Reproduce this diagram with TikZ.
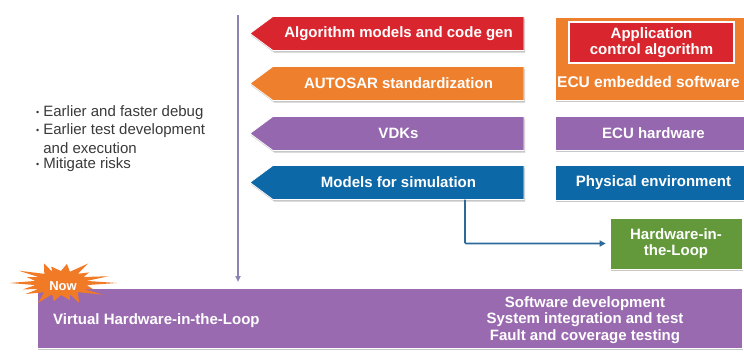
\documentclass[tikz,border=0pt]{standalone}
\usepackage{fontspec}
\setmainfont{Liberation Sans}
\usetikzlibrary{shadows,arrows.meta}

\definecolor{cred}{HTML}{D9262E}
\definecolor{corange}{HTML}{EE7F2D}
\definecolor{cpurple}{HTML}{9467AE}
\definecolor{cblue}{HTML}{0D68A8}
\definecolor{cgreen}{HTML}{63993A}
\definecolor{cbottom}{HTML}{996AAF}
\definecolor{cline}{HTML}{8C84B4}
\definecolor{cconn}{HTML}{2E6A99}
\definecolor{cstar}{HTML}{F07A26}
\definecolor{ctext}{HTML}{3A3A3A}

\tikzset{
  boxshade/.style={draw=white, line width=0.7pt,
    drop shadow={shadow xshift=1.2pt, shadow yshift=-2pt, opacity=0.22, fill=black}},
  boxtext/.style={text=white, font=\fontsize{15}{16.5}\selectfont\bfseries,
    align=center, inner sep=0pt},
  rectbox/.style={boxshade, boxtext, minimum height=34pt},
  bullettext/.style={text=ctext, font=\fontsize{15}{17}\selectfont,
    anchor=west, inner sep=0pt},
  conn/.style={draw=cconn, line width=1.6pt, -{Triangle[length=6pt,width=6pt]}},
  timeline/.style={draw=cline, line width=1.6pt, -{Triangle[length=6pt,width=5pt]}}
}

% small raised bullet mark
\newcommand\bmark{\raisebox{1.8pt}{\fontsize{9}{9}\selectfont•}\hspace{4pt}}

% arrow-shaped tag pointing left: name, vertical centre, colour, text
\newcommand\tagbox[4]{%
  \path[boxshade, fill=#3] (250,#2) -- (273,{#2-17}) -- (524,{#2-17})
    -- (524,{#2+17}) -- (273,{#2+17}) -- cycle;
  \node[boxtext, minimum width=251pt, minimum height=34pt] (#1) at (398.5,#2) {#4};
}

\begin{document}
\begin{tikzpicture}[x=1pt, y=-1pt]
\useasboundingbox (0,0) rectangle (744,362);
\clip (0,0) rectangle (744,362);
\fill[white] (0,0) rectangle (744,362);

% time line
\coordinate (tstart) at (238,15);
\coordinate (tend) at (238,282);
\draw[timeline] (tstart) -- (tend);

% benefits
\node[bullettext] (b1) at (36,113) {\bmark Earlier and faster debug};
\node[bullettext] (b2) at (36,131) {\bmark Earlier test development};
\node[bullettext] (b3) at (36,148) {\phantom{\bmark}and execution};
\node[bullettext] (b4) at (36,165) {\bmark Mitigate risks};

% tool chain tags
\tagbox{alg}{33.5}{cred}{Algorithm models and code gen}
\tagbox{autosar}{83.5}{corange}{AUTOSAR standardization}
\tagbox{vdk}{133.5}{cpurple}{VDKs}
\tagbox{sim}{182.5}{cblue}{Models for simulation}

% ECU stack
\node[boxshade, fill=corange, minimum width=197pt, minimum height=83pt,
  inner sep=0pt] (ecusw) at (653.5,58.5) {};
\node[boxtext, anchor=west, font=\fontsize{15.5}{16.5}\selectfont\bfseries] (ecuswlabel) at (557,82) {ECU embedded software};
\node[draw=white, line width=1.5pt, fill=cred, boxtext, minimum width=165pt,
  minimum height=41pt] (app) at (651.5,42.5) {Application\\control algorithm};
\node[rectbox, fill=cpurple, minimum width=197pt] (ecuhw) at (653.5,133) {ECU hardware};
\node[rectbox, fill=cblue, minimum width=197pt, minimum height=35pt] (phys) at (653.5,182.5) {Physical environment};

% hardware-in-the-loop
\node[rectbox, fill=cgreen, minimum width=132pt, minimum height=51pt] (hil) at (676,243.5) {Hardware-in-\\the-Loop};
\draw[conn, shorten >=4pt, rounded corners=1pt] ([xshift=66.5pt]sim.south) |- (hil.west);

% virtual hardware-in-the-loop
\node[boxshade, fill=cbottom, minimum width=705pt, minimum height=60pt,
  inner sep=0pt] (vhil) at (389.5,318) {};
\node[boxtext, anchor=west] (vhillabel) at (53,321) {Virtual Hardware-in-the-Loop};
\node[boxtext] (uses) at (585,320) {Software development\\System integration and test\\Fault and coverage testing};

% "Now" burst
\fill[cstar] plot[samples at={0,...,35}, variable=\k]
  ({61+cos(\k*10)*(mod(\k,2)==0 ? 56*(0.8+0.2*cos(\k*97)) : 26)},
   {283+sin(\k*10)*(mod(\k,2)==0 ? 23*(0.85+0.15*cos(\k*61)) : 12)}) -- cycle;
\node[text=white, font=\fontsize{13}{13}\selectfont\bfseries, inner sep=0pt] (now) at (63,286) {Now};
\end{tikzpicture}
\end{document}
